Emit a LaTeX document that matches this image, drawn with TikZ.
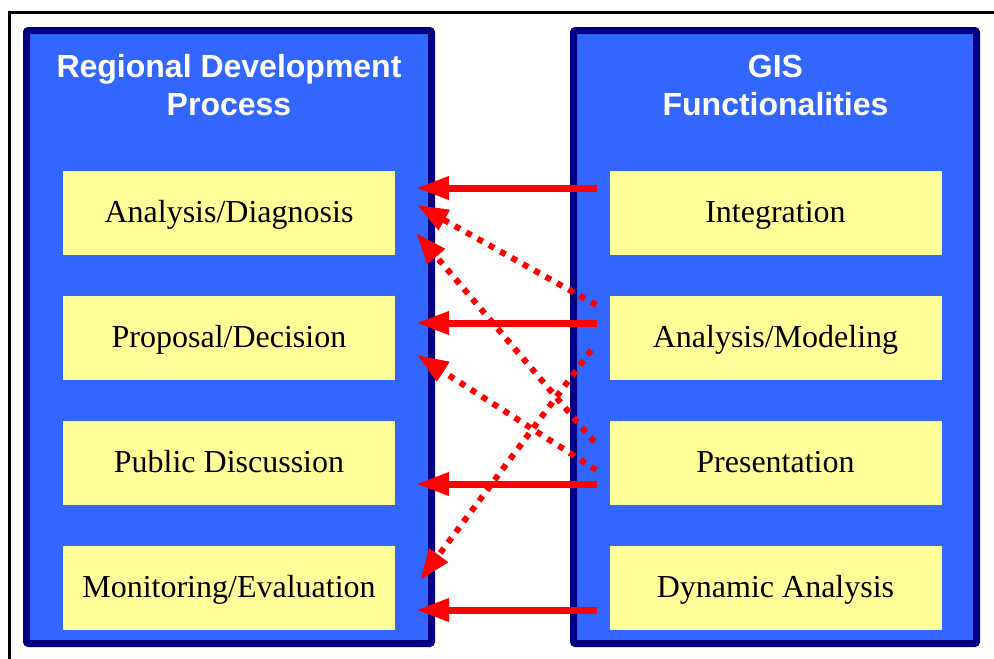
\documentclass[tikz,border=0pt]{standalone}
\usepackage{fontspec}
\setmainfont{Liberation Serif}
\newfontfamily\titlefont{Liberation Sans}
\usetikzlibrary{arrows.meta,calc}
\definecolor{panelblue}{HTML}{3366FF}
\definecolor{panelnavy}{HTML}{000080}
\definecolor{boxyellow}{HTML}{FFFF99}
\definecolor{arrowred}{HTML}{FF0000}
\tikzset{
  panel/.style={fill=panelblue,draw=panelnavy,line width=7pt,rounded corners=2pt},
  itembox/.style={fill=boxyellow,draw=none,minimum width=332pt,minimum height=84pt,inner sep=0pt,
    text height=24pt,text depth=6pt,font=\fontsize{32}{38}\selectfont},
  titletext/.style={text=white,inner sep=0pt,anchor=base,font=\titlefont\bfseries\fontsize{32}{38}\selectfont},
  solidarrow/.style={draw=arrowred,line width=7pt,-{Triangle[length=33pt,width=22pt]}},
  dotarrow/.style={draw=arrowred,line width=6pt,dash pattern=on 6pt off 7pt,-{Triangle[length=31pt,width=22pt]}},
}
\begin{document}
\begin{tikzpicture}[x=1pt,y=-1pt]
\useasboundingbox (0,0) rectangle (994,659);
% outer frame
\draw[line width=3pt] (9,659) -- (9,12.5) -- (994,12.5);
% panels
\draw[panel] (26.5,30.5) rectangle (431.5,643.5);
\draw[panel] (573.5,30.5) rectangle (976.5,643.5);
% titles
\node[titletext] (t1a) at (229,77) {Regional Development};
\node[titletext] (t1b) at (229,115) {Process};
\node[titletext] (t2a) at (775.5,77) {GIS};
\node[titletext] (t2b) at (775.5,115) {Functionalities};
% left boxes
\node[itembox] (l1) at (229,213) {Analysis/Diagnosis};
\node[itembox] (l2) at (229,338) {Proposal/Decision};
\node[itembox] (l3) at (229,463) {Public Discussion};
\node[itembox] (l4) at (229,588) {Monitoring/Evaluation};
% right boxes
\node[itembox] (r1) at (775.5,213) {Integration};
\node[itembox] (r2) at (775.5,338) {Analysis/Modeling};
\node[itembox] (r3) at (775.5,463) {Presentation};
\node[itembox] (r4) at (775.5,588) {Dynamic Analysis};
% solid arrows
\draw[solidarrow] ($(r1.west)+(-12,-25)$) -- ($(l1.east)+(21,-25)$);
\draw[solidarrow] ($(r2.west)+(-12,-15)$) -- ($(l2.east)+(21,-15)$);
\draw[solidarrow] ($(r3.west)+(-12,21)$) -- ($(l3.east)+(21,21)$);
\draw[solidarrow] ($(r4.west)+(-12,22)$) -- ($(l4.east)+(21,22)$);
% dotted arrows
\draw[dotarrow] ($(r2.west)+(-13,-33)$) -- ($(l1.east)+(22,-8)$);
\draw[dotarrow] ($(r3.west)+(-15,-21)$) -- ($(l1.east)+(21,20)$);
\draw[dotarrow] ($(r3.west)+(-13,7)$) -- ($(l2.east)+(22,17)$);
\draw[dotarrow] ($(r2.west)+(-18,12)$) -- ($(l4.east)+(25,-8)$);
\end{tikzpicture}
\end{document}
